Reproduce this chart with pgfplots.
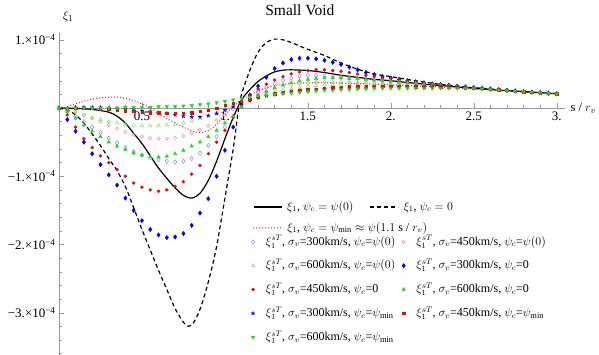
\documentclass[border=0pt]{standalone}
\usepackage{fontspec}
\setmainfont{Liberation Serif}
\usepackage{pgfplots}
\usepackage{pgfplotstable}
\pgfplotsset{compat=1.18}

\definecolor{lblue}{rgb}{0.55,0.55,1}
\definecolor{lpink}{rgb}{1,0.55,0.55}
\definecolor{lgreen}{rgb}{0.45,0.9,0.45}
\definecolor{mblue}{rgb}{0,0,1}
\definecolor{mred}{rgb}{1,0,0}
\definecolor{mgreen}{rgb}{0.05,0.9,0.05}
\definecolor{axgray}{rgb}{0.6,0.6,0.6}

% xi_1 in units of 1e-4; Bx = sigma 300, Rx = 450, Gx = 600
% suffix 1: psi_c = psi(0), 0: psi_c = 0, 2: psi_c = psi_min
\pgfplotstableread{
x     B1     R1     G1     B0     R0     G0     B2     R2     G2
0.00  0      0      0      0      0      0      0      0      0
0.05  -0.05  -0.02  -0.02  -0.17  -0.10  -0.05  0.00   0.00   0.00
0.10  -0.12  -0.06  -0.05  -0.34  -0.28  -0.15  0.01   0.00   0.00
0.15  -0.20  -0.10  -0.10  -0.50  -0.45  -0.25  0.01   0.00   0.00
0.20  -0.28  -0.15  -0.14  -0.67  -0.58  -0.34  0.01   0.00   0.00
0.25  -0.36  -0.20  -0.17  -0.83  -0.70  -0.42  0.01   -0.01  0.00
0.30  -0.44  -0.25  -0.20  -0.98  -0.80  -0.50  0.00   -0.02  0.00
0.35  -0.51  -0.30  -0.22  -1.13  -0.90  -0.56  0.00   -0.03  0.00
0.40  -0.58  -0.35  -0.24  -1.32  -1.00  -0.61  -0.01  -0.04  0.01
0.45  -0.64  -0.39  -0.25  -1.50  -1.10  -0.66  -0.02  -0.05  0.01
0.50  -0.69  -0.42  -0.26  -1.65  -1.16  -0.69  -0.04  -0.06  0.01
0.55  -0.73  -0.44  -0.26  -1.78  -1.20  -0.71  -0.05  -0.07  0.01
0.60  -0.76  -0.45  -0.26  -1.86  -1.22  -0.72  -0.07  -0.07  0.02
0.65  -0.78  -0.45  -0.25  -1.90  -1.20  -0.71  -0.08  -0.08  0.02
0.70  -0.79  -0.44  -0.24  -1.89  -1.15  -0.67  -0.10  -0.08  0.02
0.75  -0.78  -0.41  -0.22  -1.84  -1.08  -0.62  -0.12  -0.08  0.03
0.80  -0.74  -0.37  -0.19  -1.72  -0.97  -0.56  -0.13  -0.07  0.04
0.85  -0.66  -0.32  -0.16  -1.54  -0.84  -0.50  -0.13  -0.05  0.05
0.90  -0.55  -0.26  -0.12  -1.33  -0.67  -0.42  -0.11  -0.03  0.06
0.95  -0.42  -0.18  -0.08  -1.00  -0.50  -0.33  -0.08  0.00   0.08
1.00  -0.28  -0.10  -0.03  -0.62  -0.33  -0.22  -0.03  0.04   0.10
1.05  -0.12  -0.02  0.02   -0.28  -0.14  -0.12  0.02   0.07   0.12
1.10  0.02   0.06   0.07   0.05   0.05   0.02   0.07   0.10   0.14
1.15  0.14   0.13   0.12   0.19   0.18   0.12   0.11   0.13   0.16
1.20  0.23   0.19   0.16   0.32   0.28   0.19   0.15   0.16   0.18
1.25  0.30   0.24   0.20   0.45   0.35   0.24   0.18   0.19   0.19
1.30  0.36   0.28   0.23   0.58   0.41   0.30   0.20   0.21   0.20
1.35  0.41   0.31   0.26   0.66   0.46   0.34   0.22   0.23   0.21
1.40  0.44   0.34   0.28   0.71   0.50   0.37   0.24   0.25   0.22
1.45  0.47   0.36   0.30   0.73   0.53   0.40   0.25   0.26   0.23
1.50  0.48   0.37   0.32   0.73   0.55   0.42   0.26   0.27   0.24
1.55  0.48   0.38   0.33   0.72   0.56   0.43   0.27   0.28   0.25
1.60  0.47   0.38   0.34   0.70   0.56   0.44   0.28   0.29   0.26
1.65  0.46   0.38   0.34   0.67   0.55   0.44   0.29   0.30   0.26
1.70  0.45   0.38   0.35   0.64   0.54   0.44   0.29   0.30   0.27
1.75  0.44   0.38   0.35   0.60   0.52   0.43   0.30   0.31   0.27
1.80  0.43   0.37   0.35   0.56   0.50   0.43   0.30   0.31   0.28
1.85  0.42   0.37   0.34   0.52   0.48   0.42   0.30   0.31   0.28
1.90  0.41   0.36   0.34   0.49   0.46   0.41   0.31   0.32   0.29
1.95  0.40   0.36   0.34   0.46   0.44   0.40   0.31   0.32   0.29
2.00  0.39   0.35   0.33   0.44   0.43   0.39   0.31   0.32   0.29
2.05  0.38   0.345  0.33   0.42   0.41   0.38   0.31   0.32   0.29
2.10  0.37   0.34   0.325  0.40   0.395  0.37   0.31   0.315  0.29
2.15  0.36   0.335  0.32   0.385  0.38   0.36   0.31   0.315  0.29
2.20  0.35   0.33   0.32   0.37   0.365  0.35   0.31   0.31   0.29
2.25  0.34   0.325  0.315  0.355  0.35   0.34   0.31   0.31   0.29
2.30  0.33   0.32   0.31   0.345  0.34   0.33   0.31   0.31   0.29
2.35  0.32   0.315  0.31   0.335  0.33   0.32   0.305  0.305  0.29
2.40  0.31   0.31   0.305  0.32   0.32   0.31   0.305  0.305  0.29
2.45  0.305  0.305  0.30   0.31   0.31   0.305  0.30   0.30   0.29
2.50  0.30   0.30   0.30   0.30   0.30   0.30   0.295  0.295  0.285
2.55  0.29   0.29   0.29   0.29   0.29   0.29   0.287  0.287  0.28
2.60  0.28   0.28   0.28   0.28   0.28   0.28   0.278  0.278  0.272
2.65  0.27   0.27   0.27   0.27   0.27   0.27   0.27   0.27   0.265
2.70  0.26   0.26   0.26   0.26   0.26   0.26   0.26   0.26   0.257
2.75  0.25   0.25   0.25   0.25   0.25   0.25   0.25   0.25   0.249
2.80  0.24   0.24   0.24   0.24   0.24   0.24   0.241  0.241  0.241
2.85  0.232  0.232  0.232  0.232  0.232  0.232  0.233  0.233  0.233
2.90  0.225  0.225  0.225  0.225  0.225  0.225  0.225  0.225  0.225
2.95  0.217  0.217  0.217  0.217  0.217  0.217  0.217  0.217  0.217
3.00  0.21   0.21   0.21   0.21   0.21   0.21   0.21   0.21   0.21
}\sigdata

\newcommand{\xiT}{$\xi_1^{sT}$}
% column-one entries get a fixed width so column two starts at one place
\newcommand{\ent}[1]{\hspace*{10bp}\makebox[130bp][l]{#1}}
\newcommand{\entb}[1]{\hspace*{10bp}#1}

\begin{document}
\begin{tikzpicture}
\begin{axis}[name=ax, scale only axis, width=506bp, height=322bp,
  xmin=0, xmax=3.05, ymin=-3.62, ymax=1.1,
  axis lines=middle, axis line style={axgray, -},
  every tick/.style={axgray},
  tick align=inside, major tick length=5bp, minor tick length=3bp,
  xtick={0.5,1,1.5,2,2.5,3}, xticklabels={0.5,1.,1.5,2.,2.5,3.},
  minor xtick={0.1,0.2,0.3,0.4,0.6,0.7,0.8,0.9,1.1,1.2,1.3,1.4,1.6,1.7,1.8,1.9,2.1,2.2,2.3,2.4,2.6,2.7,2.8,2.9},
  ytick={-3,-2,-1,1},
  yticklabels={−3.×10\textsuperscript{−4},−2.×10\textsuperscript{−4},−1.×10\textsuperscript{−4},1.×10\textsuperscript{−4}},
  minor ytick={-3.6,-3.4,-3.2,-2.8,-2.6,-2.4,-2.2,-1.8,-1.6,-1.4,-1.2,-0.8,-0.6,-0.4,-0.2,0.2,0.4,0.6,0.8,1.0},
  ticklabel style={font=\fontsize{13bp}{15bp}\selectfont},
  title={Small Void}, every axis title shift=0pt,
  title style={at={(axis description cs:0.476,1.071)}, anchor=center,
    font=\fontsize{15.5bp}{17bp}\selectfont},
  xlabel={s / $r_v$},
  xlabel style={at={(axis description cs:1.036,0.767)}, anchor=center, font=\fontsize{12.5bp}{14bp}\selectfont},
  ylabel={$\xi_1$},
  ylabel style={at={(axis description cs:0.018,1.05)}, anchor=center, font=\fontsize{13bp}{15bp}\selectfont},
  clip=false,
  legend columns=2, legend cell align=left,
  legend style={at={(axis description cs:0.3794,0.3758)}, anchor=north west,
    draw=none, fill=none, inner sep=0pt, row sep=8.3bp,
    nodes={inner sep=1bp, text height=10bp, text depth=3.5bp},
    font=\fontsize{12bp}{14bp}\selectfont,
    /tikz/every even column/.append style={column sep=5bp}},
]
\addplot[only marks, mark=diamond, mark size=2.2bp, lblue, mark options={line width=0.5bp}] table[x=x, y=B1] {\sigdata};
\addlegendentry{\ent{\xiT, $\sigma_v$=300km/s, $\psi_c$=$\psi(0)$}}
\addplot[only marks, mark=o, mark size=1.7bp, lpink, mark options={line width=0.5bp}] table[x=x, y=R1] {\sigdata};
\addlegendentry{\entb{\xiT, $\sigma_v$=450km/s, $\psi_c$=$\psi(0)$}}
\addplot[only marks, mark=triangle, mark size=2bp, lgreen, mark options={line width=0.5bp}] table[x=x, y=G1] {\sigdata};
\addlegendentry{\ent{\xiT, $\sigma_v$=600km/s, $\psi_c$=$\psi(0)$}}
\addplot[only marks, mark=diamond*, mark size=2.2bp, mblue] table[x=x, y=B0] {\sigdata};
\addlegendentry{\entb{\xiT, $\sigma_v$=300km/s, $\psi_c$=0}}
\addplot[only marks, mark=*, mark size=1.5bp, mred] table[x=x, y=R0] {\sigdata};
\addlegendentry{\ent{\xiT, $\sigma_v$=450km/s, $\psi_c$=0}}
\addplot[only marks, mark=triangle*, mark size=2bp, mgreen] table[x=x, y=G0] {\sigdata};
\addlegendentry{\entb{\xiT, $\sigma_v$=600km/s, $\psi_c$=0}}
\addplot[only marks, mark=star, mark size=2bp, mblue, mark options={line width=0.8bp}] table[x=x, y=B2] {\sigdata};
\addlegendentry{\ent{\xiT, $\sigma_v$=300km/s, $\psi_c$=$\psi_{\min}$}}
\addplot[only marks, mark=square*, mark size=1.2bp, mred] table[x=x, y=R2] {\sigdata};
\addlegendentry{\entb{\xiT, $\sigma_v$=450km/s, $\psi_c$=$\psi_{\min}$}}
\addplot[only marks, mark=triangle*, mark size=2bp, mgreen, mark options={rotate=180}] table[x=x, y=G2] {\sigdata};
\addlegendentry{\ent{\xiT, $\sigma_v$=600km/s, $\psi_c$=$\psi_{\min}$}}

% xi_1, psi_c = psi(0)
\addplot[black, line width=1.2bp, smooth, forget plot] coordinates {
 (0,0)(0.1,-0.005)(0.2,-0.02)(0.3,-0.06)(0.35,-0.12)(0.4,-0.22)(0.45,-0.37)
 (0.5,-0.52)(0.55,-0.7)(0.6,-0.88)(0.65,-1.03)(0.7,-1.17)(0.75,-1.28)(0.8,-1.32)
 (0.85,-1.25)(0.9,-1.06)(0.95,-0.78)(1.0,-0.45)(1.05,-0.14)(1.1,0.12)(1.15,0.27)
 (1.2,0.39)(1.25,0.47)(1.3,0.53)(1.35,0.555)(1.4,0.56)(1.5,0.55)(1.6,0.52)
 (1.7,0.48)(1.8,0.45)(1.9,0.42)(2.0,0.40)(2.2,0.35)(2.4,0.31)(2.6,0.27)(2.8,0.24)(3.0,0.21)};
% xi_1, psi_c = 0
\addplot[black, line width=1.2bp, dash pattern=on 4bp off 3bp, smooth, forget plot] coordinates {
 (0,0)(0.05,-0.03)(0.1,-0.1)(0.15,-0.22)(0.2,-0.38)(0.25,-0.55)(0.3,-0.74)(0.35,-0.92)
 (0.4,-1.15)(0.45,-1.46)(0.5,-1.78)(0.55,-2.08)(0.6,-2.38)(0.65,-2.66)(0.7,-2.94)
 (0.75,-3.14)(0.78,-3.2)(0.81,-3.15)(0.85,-2.95)(0.9,-2.55)(0.95,-2.03)(1.0,-1.32)
 (1.05,-0.6)(1.08,-0.05)(1.1,0.2)(1.15,0.55)(1.2,0.82)(1.25,0.96)(1.3,1.01)(1.35,1.0)
 (1.4,0.96)(1.45,0.91)(1.5,0.86)(1.6,0.77)(1.7,0.66)(1.8,0.57)(1.9,0.5)(2.0,0.46)
 (2.2,0.38)(2.4,0.32)(2.6,0.28)(2.8,0.24)(3.0,0.21)};
% xi_1, psi_c = psi_min
\addplot[mred, line width=1.3bp, line cap=round, dash pattern=on 0bp off 3bp, smooth, forget plot] coordinates {
 (0,0)(0.05,0.02)(0.1,0.06)(0.15,0.1)(0.2,0.13)(0.25,0.15)(0.3,0.16)(0.35,0.16)
 (0.4,0.14)(0.45,0.11)(0.5,0.06)(0.55,0.0)(0.6,-0.08)(0.65,-0.15)(0.7,-0.22)
 (0.75,-0.28)(0.8,-0.33)(0.85,-0.36)(0.9,-0.33)(0.95,-0.24)(1.0,-0.1)(1.05,0.02)
 (1.1,0.12)(1.2,0.25)(1.3,0.33)(1.4,0.36)(1.5,0.37)(1.6,0.37)(1.8,0.36)(2.0,0.34)
 (2.2,0.32)(2.5,0.28)(2.8,0.24)(3.0,0.21)};
\end{axis}

% legend rows for the three lines
\begin{axis}[at={(ax.south west)}, anchor=south west, scale only axis,
  width=506bp, height=322bp, hide axis, xmin=0, xmax=1, ymin=0, ymax=1,
  legend columns=-1, legend cell align=left,
  legend image code/.code={\draw[#1] (0bp,0bp) -- (28bp,0bp);},
  legend style={at={(axis description cs:0.383,0.4845)}, anchor=north west,
    draw=none, fill=none, inner sep=0pt,
    nodes={inner sep=1bp, text height=10bp, text depth=3.5bp},
    font=\fontsize{12bp}{14bp}\selectfont,
    /tikz/every even column/.append style={column sep=15bp}},
]
\addlegendimage{black, line width=1.2bp}
\addlegendentry{\hspace*{4bp}$\xi_1$, $\psi_c = \psi(0)$}
\addlegendimage{black, line width=1.2bp, dash pattern=on 4bp off 3bp}
\addlegendentry{\hspace*{4bp}$\xi_1$, $\psi_c = 0$}
\end{axis}

\begin{axis}[at={(ax.south west)}, anchor=south west, scale only axis,
  width=506bp, height=322bp, hide axis, xmin=0, xmax=1, ymin=0, ymax=1,
  legend cell align=left,
  legend image code/.code={\draw[#1] (0bp,0bp) -- (28bp,0bp);},
  legend style={at={(axis description cs:0.383,0.4193)}, anchor=north west,
    draw=none, fill=none, inner sep=0pt,
    nodes={inner sep=1bp, text height=10bp, text depth=3.5bp},
    font=\fontsize{12bp}{14bp}\selectfont},
]
\addlegendimage{mred, line width=1.3bp, line cap=round, dash pattern=on 0bp off 3bp}
\addlegendentry{\hspace*{4bp}$\xi_1$, $\psi_c = \psi_{\min} \approx \psi(1.1$ s / $r_v)$}
\end{axis}

\pgfresetboundingbox
\useasboundingbox ([xshift=-59bp]ax.south west) rectangle ([xshift=34bp,yshift=33bp]ax.north east);
\end{tikzpicture}
\end{document}
